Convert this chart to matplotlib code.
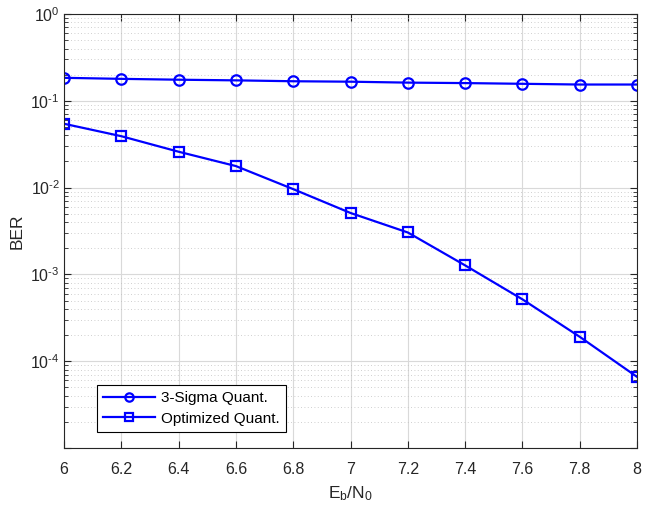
import numpy as np
import matplotlib
matplotlib.use("Agg")
import matplotlib.pyplot as plt
from matplotlib.ticker import LogLocator, NullLocator, FixedLocator

plt.rcParams['font.family'] = ['Liberation Sans', 'DejaVu Sans']
plt.rcParams['mathtext.fontset'] = 'custom'
plt.rcParams['mathtext.rm'] = 'Liberation Sans'
plt.rcParams['mathtext.it'] = 'Liberation Sans'

ebn0 = [6.0, 6.2, 6.4, 6.6, 6.8, 7.0, 7.2, 7.4, 7.6, 7.8, 8.0]
ber_3sigma = [0.184, 0.179, 0.175, 0.172, 0.168, 0.166, 0.162, 0.160, 0.157, 0.154, 0.154]
ber_opt = [0.0544, 0.0391, 0.0259, 0.0177, 0.0096, 0.0051, 0.00304, 0.00127, 0.000516, 0.000191, 6.6e-5]
yticks = [1e-5, 1e-4, 1e-3, 1e-2, 1e-1, 1e0]
ylabels = ['', r'$\mathregular{10^{\text{-}4}}$', r'$\mathregular{10^{\text{-}3}}$',
           r'$\mathregular{10^{\text{-}2}}$', r'$\mathregular{10^{\text{-}1}}$', r'$\mathregular{10^{0}}$']

fig = plt.figure(figsize=(6.56, 5.13), dpi=100)
ax = fig.add_axes([0.0976, 0.1267, 0.8735, 0.846])

blue = (0, 0, 1)
ax.semilogy(ebn0, ber_3sigma, '-o', color=blue, lw=1.6, ms=7.5, mfc='none', mew=1.6,
            label='3-Sigma Quant.')
ax.semilogy(ebn0, ber_opt, '-s', color=blue, lw=1.6, ms=6.5, mfc='none', mew=1.6,
            label='Optimized Quant.')

ax.set_xlim(6, 8)
ax.set_ylim(1e-5, 1e0)
ax.set_xticks(np.arange(6, 8.01, 0.2))
ax.set_xticklabels(['6', '6.2', '6.4', '6.6', '6.8', '7', '7.2', '7.4', '7.6', '7.8', '8'])
ax.yaxis.set_major_locator(FixedLocator(yticks))
ax.set_yticklabels(ylabels)
ax.yaxis.set_minor_locator(LogLocator(base=10, subs=np.arange(2, 10), numticks=20))
ax.xaxis.set_minor_locator(NullLocator())

ax.grid(True, which='major', color=(0.85, 0.85, 0.85), lw=0.8, ls='-')
ax.grid(True, which='minor', axis='y', color=(0.75, 0.75, 0.75), lw=0.6, ls=(0, (1, 3)))
ax.set_axisbelow(True)

ax.tick_params(which='both', direction='in', top=True, right=True, colors=(0.15, 0.15, 0.15),
               labelsize=11.5)
ax.tick_params(which='major', length=5)
ax.tick_params(which='minor', length=3)
ax.tick_params(axis='x', pad=10)
ax.tick_params(axis='y', pad=3)
for s in ax.spines.values():
    s.set_color((0.15, 0.15, 0.15))
    s.set_linewidth(0.8)

ax.set_xlabel(r'$\mathregular{E_b/N_0}$', fontsize=12.5, color=(0.15, 0.15, 0.15), labelpad=5)
ax.set_ylabel('BER', fontsize=12.5, color=(0.15, 0.15, 0.15), labelpad=4)

leg = ax.legend(loc='lower left', bbox_to_anchor=(0.057, 0.037), fontsize=11,
                fancybox=False, edgecolor='black', framealpha=1, borderaxespad=0,
                handlelength=3.4, handletextpad=0.4, borderpad=0.4, labelspacing=0.45,
                markerscale=0.8)
leg.get_frame().set_linewidth(0.8)

fig.savefig('out.png', dpi=100)
